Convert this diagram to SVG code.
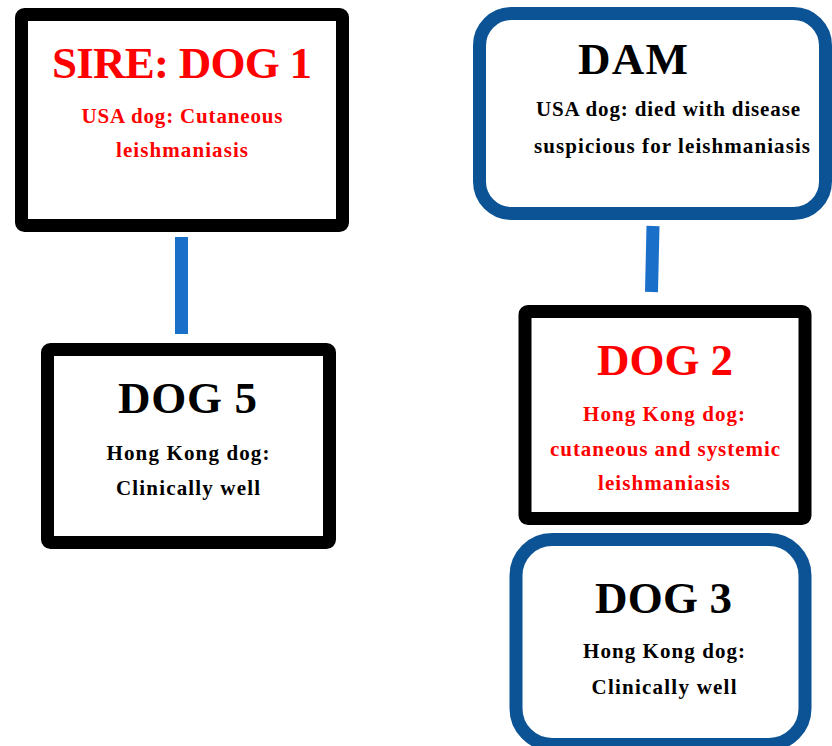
<svg xmlns="http://www.w3.org/2000/svg" width="832" height="746" viewBox="0 0 832 746">
<style>
.sq{fill:#fff;stroke:#000;stroke-width:13}
.rd{fill:#fff;stroke:#0b5394;stroke-width:13}
.t{font-family:"Liberation Serif","DejaVu Serif",serif;text-anchor:middle;font-weight:bold}
.h{font-size:45px}
.s{font-size:21px}
.red{fill:#ff0000}
.blk{fill:#000}
.c{stroke:#1a70c8;stroke-width:13;fill:none}
</style>
<rect width="832" height="746" fill="#fff"/>
<g id="connectors">
<line class="c" x1="181.5" y1="237" x2="181.5" y2="334"/>
<line class="c" x1="653" y1="226" x2="651.5" y2="292"/>
</g>
<g id="sire">
<rect class="sq" x="21.5" y="14.5" width="321" height="211" rx="3"/>
<text class="t h red" x="182" y="78" textLength="260">SIRE: DOG 1</text>
<text class="t s red" x="182" y="123" textLength="201">USA dog: Cutaneous</text>
<text class="t s red" x="182" y="157" textLength="132">leishmaniasis</text>
</g>
<g id="dam">
<rect class="rd" x="479.5" y="13.5" width="346" height="200" rx="32"/>
<text class="t h blk" x="633" y="74" textLength="110">DAM</text>
<text class="t s blk" x="668" y="116" textLength="264">USA dog: died with disease</text>
<text class="t s blk" x="672" y="153" textLength="276">suspicious for leishmaniasis</text>
</g>
<g id="dog5">
<rect class="sq" x="47.5" y="349.5" width="282" height="193" rx="3"/>
<text class="t h blk" x="187.5" y="413" textLength="139">DOG 5</text>
<text class="t s blk" x="188" y="460" textLength="163">Hong Kong dog:</text>
<text class="t s blk" x="188" y="495" textLength="144">Clinically well</text>
</g>
<g id="dog2">
<rect class="sq" x="525" y="311.5" width="280" height="207" rx="3"/>
<text class="t h red" x="665" y="375" textLength="136">DOG 2</text>
<text class="t s red" x="664" y="421" textLength="162">Hong Kong dog:</text>
<text class="t s red" x="665" y="456" textLength="230">cutaneous and systemic</text>
<text class="t s red" x="664" y="490" textLength="132">leishmaniasis</text>
</g>
<g id="dog3">
<rect class="rd" x="516" y="539.5" width="289" height="205" rx="36"/>
<text class="t h blk" x="663.5" y="613" textLength="137">DOG 3</text>
<text class="t s blk" x="664" y="658" textLength="162">Hong Kong dog:</text>
<text class="t s blk" x="664" y="694" textLength="145">Clinically well</text>
</g>
</svg>
